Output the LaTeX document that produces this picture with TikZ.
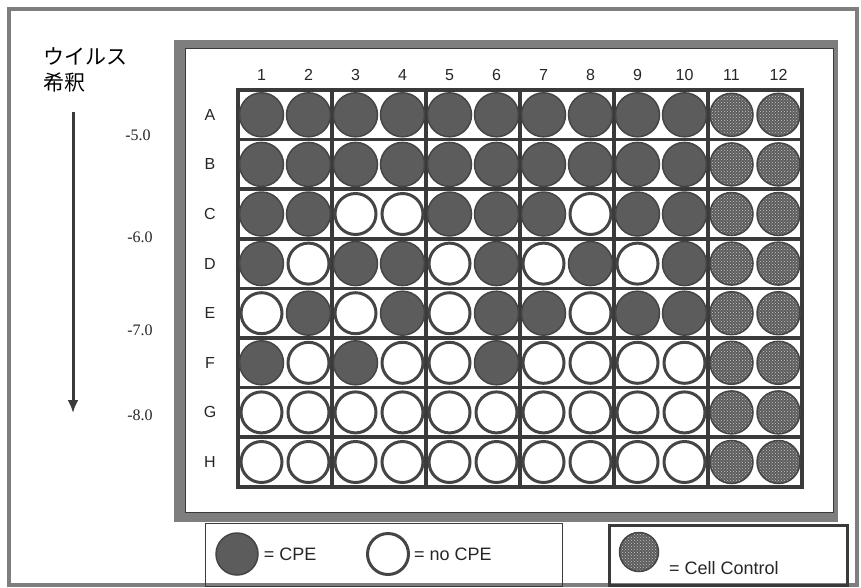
\documentclass[tikz,border=0pt]{standalone}
\usepackage{fontspec}
\setmainfont{Liberation Sans}
\newfontfamily\numfont{Liberation Serif}
\newfontfamily\jpfont{Noto Sans CJK JP}
\usetikzlibrary{arrows.meta, positioning, patterns}
\definecolor{plGrid}{HTML}{3A3A3A}
\definecolor{plWell}{HTML}{5C5C5C}
\definecolor{plRing}{HTML}{454545}
\definecolor{plFrame}{HTML}{7E7E7E}
\definecolor{plDots}{HTML}{C8C8C8}

\begin{document}
\begin{tikzpicture}[
  x=1pt, y=-1pt, font=\fontsize{16}{18}\selectfont,
  cpe/.style={circle, draw=plRing, fill=plWell, line width=1.5pt,
              minimum size=44pt, inner sep=0pt},
  nocpe/.style={circle, draw=plRing, fill=white, line width=3pt,
                minimum size=41pt, inner sep=0pt},
  ctrl/.style={circle, draw=plRing, line width=1.5pt, minimum size=43pt, inner sep=0pt,
               preaction={fill=plWell}, pattern=crosshatch dots, pattern color=plDots},
  gline/.style={draw=plGrid, line width=3.5pt},
  lbl/.style={text=black!85},
  tick/.style={text=black!85, font=\numfont\fontsize{16}{18}\selectfont},
  legbox/.style={draw=plGrid, line width=1pt, inner sep=0pt},
  legtxt/.style={font=\fontsize{18}{20}\selectfont, text=black!85, inner sep=1pt},
  arr/.style={-{Latex[length=13pt, width=11pt]}, draw=plGrid, line width=3pt},
]
\useasboundingbox (0,0) rectangle (861,587);

% outer frame and plate holder
\draw[draw=plFrame, line width=4pt] (9,9) rectangle (857,585);
\fill[plFrame] (174,40) rectangle (838,522);
\fill[white] (185,48) rectangle (833,512);
\draw[plGrid, line width=0.8pt] (185,48) rectangle (833,512);

% dilution label and arrow
\node[font=\jpfont\fontsize{21}{26}\selectfont, align=left, anchor=north west, inner sep=0pt]
  (title) at (43,47) {ウイルス\\希釈};
\coordinate (atop) at (73,112);
\coordinate (abot) at (73,413);
\draw[arr] (atop) -- (abot);
\node[tick] (t5) at (138,135) {-5.0};
\node[tick] (t6) at (140,237) {-6.0};
\node[tick] (t7) at (140,330) {-7.0};
\node[tick] (t8) at (140,415) {-8.0};

% plate grid
\foreach \i in {0,...,8}
  \draw[gline] (236.25,90+49.6*\i) -- (803.75,90+49.6*\i);
\foreach \k in {0,...,6}
  \draw[gline] (238+94*\k,90) -- (238+94*\k,486.8);

% column labels
\foreach \c in {1,...,12}
  \node[lbl] (col\c) at (214.5+47*\c,75) {\c};

% wells, rows A to H
\foreach \r/\lab/\wells in {
  1/A/{cpe,cpe,cpe,cpe,cpe,cpe,cpe,cpe,cpe,cpe},
  2/B/{cpe,cpe,cpe,cpe,cpe,cpe,cpe,cpe,cpe,cpe},
  3/C/{cpe,cpe,nocpe,nocpe,cpe,cpe,cpe,nocpe,cpe,cpe},
  4/D/{cpe,nocpe,cpe,cpe,nocpe,cpe,nocpe,cpe,nocpe,cpe},
  5/E/{nocpe,cpe,nocpe,cpe,nocpe,cpe,cpe,nocpe,cpe,cpe},
  6/F/{cpe,nocpe,cpe,nocpe,nocpe,cpe,nocpe,nocpe,nocpe,nocpe},
  7/G/{nocpe,nocpe,nocpe,nocpe,nocpe,nocpe,nocpe,nocpe,nocpe,nocpe},
  8/H/{nocpe,nocpe,nocpe,nocpe,nocpe,nocpe,nocpe,nocpe,nocpe,nocpe}} {
  \node[lbl] (row\lab) at (210,65.2+49.6*\r) {\lab};
  \foreach \s [count=\c] in \wells
    \node[\s] (w\lab\c) at (214.5+47*\c,65.2+49.6*\r) {};
  \node[ctrl] (w\lab11) at (731.5,65.2+49.6*\r) {};
  \node[ctrl] (w\lab12) at (778.5,65.2+49.6*\r) {};
}

% legend
\node[legbox, minimum width=357pt, minimum height=63pt] (legA) at (383.5,554.5) {};
\node[legbox, line width=3pt, minimum width=238pt, minimum height=60pt] (legB) at (728,555) {};
\node[cpe, minimum size=42pt] (kcpe) at (237,554) {};
\node[legtxt, right=4pt of kcpe] (kcpetxt) {= CPE};
\node[nocpe] (knocpe) at (388,554) {};
\node[legtxt, right=3pt of knocpe] (knocpetxt) {= no CPE};
\node[ctrl, minimum size=39pt] (kctrl) at (639,552) {};
\node[legtxt, anchor=west] (kctrltxt) at (668,568) {= Cell Control};
\end{tikzpicture}
\end{document}
